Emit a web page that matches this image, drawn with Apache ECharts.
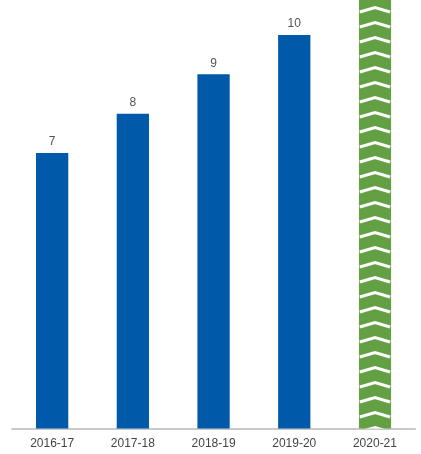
<!DOCTYPE html>
<html>
<head>
<meta charset="utf-8">
<script src="https://cdn.jsdelivr.net/npm/echarts@6/dist/echarts.min.js"></script>
<style>html,body{margin:0;padding:0;background:#fff}#c{width:421px;height:454px}</style>
</head>
<body>
<div id="c"></div>
<script>
const categories = ['2016-17', '2017-18', '2018-19', '2019-20', '2020-21'];
const values = [7, 8, 9, 10, 11];
const showLabel = [true, true, true, true, false];
const yMax = 10.89;

const BLUE = '#0059a9';
const GREEN = '#62a043';

const chart = echarts.init(document.getElementById('c'), null, { renderer: 'canvas' });

function makePattern(barW) {
  const w = Math.ceil(barW) + 2, h = 15;
  const cv = document.createElement('canvas');
  cv.width = w; cv.height = h;
  const ctx = cv.getContext('2d');
  ctx.fillStyle = GREEN;
  ctx.fillRect(0, 0, w, h);
  ctx.strokeStyle = '#ffffff';
  ctx.lineWidth = 3;
  ctx.lineJoin = 'miter';
  ctx.lineCap = 'butt';
  ctx.beginPath();
  ctx.moveTo(1, 12);
  ctx.lineTo(barW / 2, 7.5);
  ctx.lineTo(barW - 1, 12);
  ctx.stroke();
  return cv;
}

function buildOption(patternColor) {
  return {
    animation: false,
    grid: { left: 11.8, right: 5.7, top: 0, bottom: 25.5 },
    xAxis: {
      type: 'category',
      data: categories,
      axisLine: { lineStyle: { color: '#b8b8b8', width: 1.5 } },
      axisTick: { show: false },
      axisLabel: { color: '#444', fontSize: 12, margin: 9, fontFamily: 'Liberation Sans, Arial, sans-serif' }
    },
    yAxis: { type: 'value', min: 0, max: yMax, show: false, splitLine: { show: false } },
    series: [{
      type: 'bar',
      barWidth: '40%',
      data: values.map((v, i) => ({
        value: v,
        itemStyle: { color: i === values.length - 1 ? (patternColor || GREEN) : BLUE },
        label: { show: showLabel[i] }
      })),
      label: {
        position: 'top', distance: 5, color: '#555', fontSize: 12,
        fontFamily: 'Liberation Sans, Arial, sans-serif'
      }
    }]
  };
}

chart.setOption(buildOption(null));
const last = categories.length - 1;
const pLast = chart.convertToPixel({ gridIndex: 0 }, [categories[last], 0]);
const pPrev = chart.convertToPixel({ gridIndex: 0 }, [categories[last - 1], 0]);
const band = pLast[0] - pPrev[0];
const barW = band * 0.4;
const left = pLast[0] - barW / 2;
const pattern = { image: makePattern(barW), repeat: 'repeat-y', x: left, y: 0 };
chart.setOption(buildOption(pattern));
</script>
</body>
</html>
